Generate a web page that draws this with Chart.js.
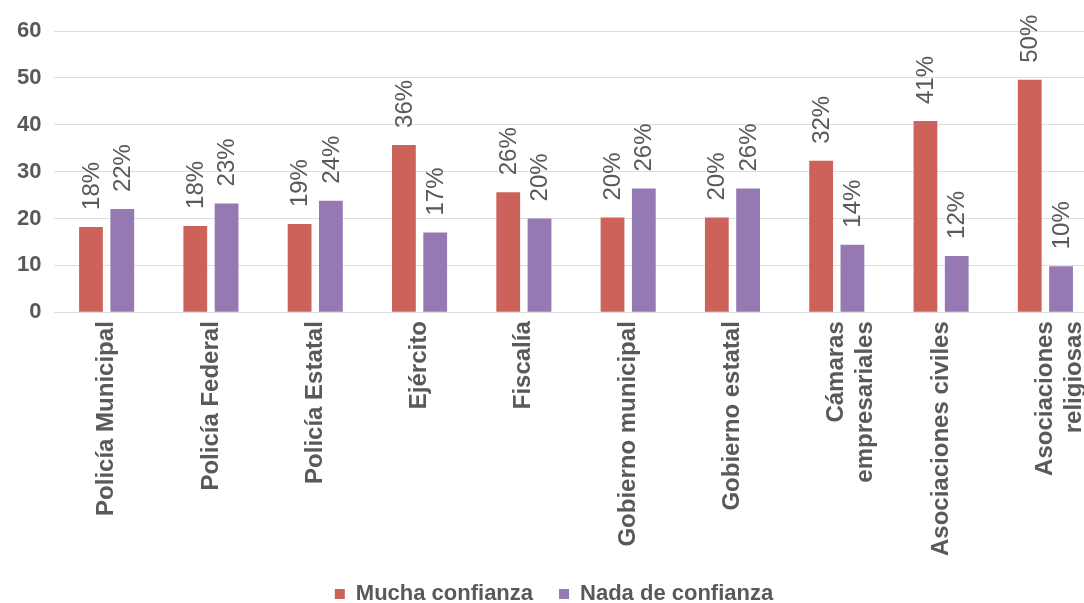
<!DOCTYPE html>
<html>
<head>
<meta charset="utf-8">
<script src="https://cdn.jsdelivr.net/npm/chart.js@4"></script>
<style>
  html, body { margin: 0; padding: 0; background: #fff; overflow: hidden; }
  #wrap { position: absolute; left: 0; top: 0; width: 1104px; height: 603px; }
</style>
</head>
<body>
<div id="wrap"><canvas id="myChart"></canvas></div>
<script>
// categories and values
const categories = [
  "Policía Municipal", "Policía Federal", "Policía Estatal", "Ejército", "Fiscalía",
  "Gobierno municipal", "Gobierno estatal", ["Cámaras", "empresariales"],
  "Asociaciones civiles", ["Asociaciones", "religiosas"]
];
const muchaConfianza = [18.2, 18.4, 18.8, 35.7, 25.6, 20.2, 20.2, 32.3, 40.8, 49.6];
const nadaConfianza = [22.0, 23.2, 23.8, 17.0, 20.0, 26.4, 26.4, 14.4, 12.0, 9.8];
const yTicks = [0, 10, 20, 30, 40, 50, 60];

const textColor = '#595959';
const fontFamily = '"Liberation Sans", Arial, sans-serif';

// rotated % labels above each bar
const barLabels = {
  id: 'barLabels',
  afterDatasetsDraw(chart) {
    const ctx = chart.ctx;
    ctx.save();
    ctx.fillStyle = textColor;
    ctx.font = '24px ' + fontFamily;
    ctx.textAlign = 'left';
    ctx.textBaseline = 'middle';
    chart.data.datasets.forEach((ds, i) => {
      chart.getDatasetMeta(i).data.forEach((bar, j) => {
        ctx.save();
        ctx.translate(bar.x, bar.y - 17);
        ctx.rotate(-Math.PI / 2);
        ctx.fillText(Math.round(ds.data[j]) + '%', 0, 1);
        ctx.restore();
      });
    });
    ctx.restore();
  }
};

const chart = () => {
  var ctx = document.getElementById('myChart').getContext('2d');
  new Chart(ctx, {
    type: 'bar',
    data: {
      labels: categories,
      datasets: [{
        label: "Mucha confianza",
        backgroundColor: '#CC625A',
        data: muchaConfianza
      }, {
        label: "Nada de confianza",
        backgroundColor: '#9479B3',
        data: nadaConfianza
      }]
    },
    options: {
      responsive: true,
      maintainAspectRatio: false,
      animation: false,
      categoryPercentage: 0.6,
      barPercentage: 0.76,
      layout: { padding: { top: 31, left: 4, right: 0, bottom: -12 } },
      plugins: {
        tooltip: { enabled: false },
        legend: {
          position: 'bottom',
          labels: {
            color: textColor,
            font: { family: fontFamily, size: 22, weight: 'bold' },
            boxWidth: 10,
            boxHeight: 10,
            padding: 26
          }
        }
      },
      scales: {
        y: {
          min: 0,
          max: 60,
          afterBuildTicks: (axis) => { axis.ticks = yTicks.map(v => ({ value: v })); },
          border: { display: false },
          grid: { color: '#dedede', drawTicks: false },
          ticks: {
            color: textColor,
            padding: 13,
            font: { family: fontFamily, size: 22, weight: 'bold' }
          }
        },
        x: {
          border: { display: false },
          grid: { display: false },
          ticks: {
            color: textColor,
            autoSkip: false,
            maxRotation: 90,
            minRotation: 90,
            padding: 1,
            font: { family: fontFamily, size: 24, weight: 'bold' }
          }
        }
      }
    },
    plugins: [barLabels]
  });
};
window.onload = chart;
</script>
</body>
</html>
